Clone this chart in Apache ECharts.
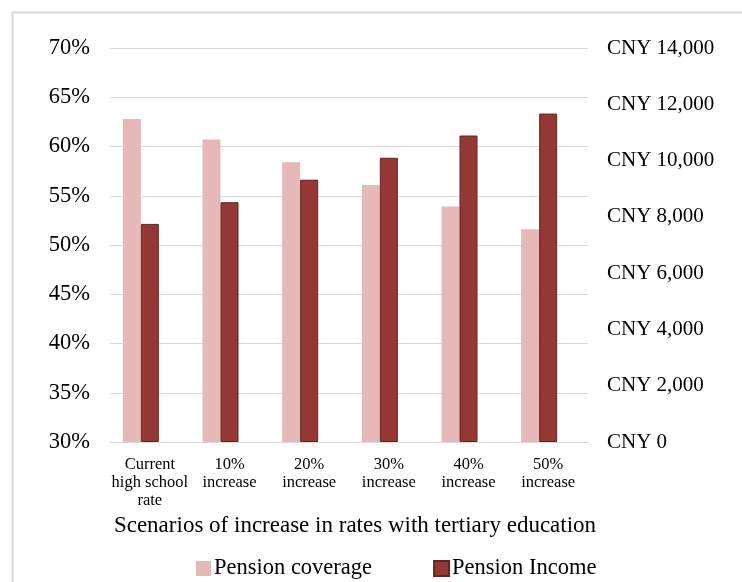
<!DOCTYPE html>
<html>
<head>
<meta charset="utf-8">
<script src="https://cdn.jsdelivr.net/npm/echarts@6/dist/echarts.min.js"></script>
<style>html,body{margin:0;padding:0;background:#fff;}#c{width:742px;height:582px;}</style>
</head>
<body>
<div id="c"></div>
<script>
const categories = ["Current\nhigh school\nrate", "10%\nincrease", "20%\nincrease", "30%\nincrease", "40%\nincrease", "50%\nincrease"];
const pensionCoverage = [62.8, 60.7, 58.4, 56.1, 53.9, 51.6];
const pensionIncome = [7750, 8520, 9320, 10100, 10890, 11670];
const spacer = [];
const leftTicks = {min: 30, max: 70, interval: 5};
const rightTicks = {min: 0, max: 14000, interval: 2000};

const FONT = '"Liberation Serif", "DejaVu Serif", serif';
const chart = echarts.init(document.getElementById('c'));
chart.setOption({
  animation: false,
  textStyle: {fontFamily: FONT, color: '#000'},
  graphic: [{
    type: 'rect', left: 10, top: 10, silent: true,
    shape: {x: 0, y: 0, width: 800, height: 700},
    style: {fill: 'none', stroke: '#d9d9d9', lineWidth: 2}
  }],
  grid: {left: 110, right: 154, top: 48, bottom: 140},
  legend: {
    data: ['Pension coverage', 'Pension Income'],
    left: 196, top: 557, padding: 0,
    icon: 'rect',
    itemWidth: 15, itemHeight: 15, itemGap: 61,
    textStyle: {fontFamily: FONT, fontSize: 22.5, color: '#000', padding: [0, 0, 0, -2]}
  },
  xAxis: {
    type: 'category',
    data: categories,
    axisLine: {lineStyle: {color: '#d9d9d9', width: 1}},
    axisTick: {show: false},
    axisLabel: {fontFamily: FONT, fontSize: 16.5, color: '#000', lineHeight: 18, margin: 14, interval: 0},
    name: 'Scenarios of increase in rates with tertiary education',
    nameLocation: 'middle',
    nameGap: 66,
    nameTextStyle: {fontFamily: FONT, fontSize: 23, color: '#000', padding: [0, 0, 0, 12]}
  },
  yAxis: [{
    type: 'value',
    min: leftTicks.min, max: leftTicks.max, interval: leftTicks.interval,
    axisLine: {show: false}, axisTick: {show: false},
    axisLabel: {fontFamily: FONT, fontSize: 22.5, color: '#000', margin: 20, formatter: '{value}%'},
    splitLine: {lineStyle: {color: '#d9d9d9', width: 1}}
  }, {
    type: 'value',
    position: 'right',
    min: rightTicks.min, max: rightTicks.max, interval: rightTicks.interval,
    axisLine: {show: false}, axisTick: {show: false},
    axisLabel: {fontFamily: FONT, fontSize: 21, color: '#000', margin: 19,
      formatter: v => 'CNY ' + v.toLocaleString('en-US')},
    splitLine: {show: false}
  }],
  series: [{
    name: 'Pension coverage', type: 'bar', yAxisIndex: 0,
    data: pensionCoverage, barWidth: 18, barGap: '0%',
    itemStyle: {color: '#e6b9b8'}
  }, {
    name: 'Pension Income', type: 'bar', yAxisIndex: 1,
    data: pensionIncome, barWidth: 18, barGap: '0%',
    itemStyle: {color: '#953735', borderColor: '#632523', borderWidth: 1}
  }, {
    name: 'spacer', type: 'bar', yAxisIndex: 1,
    data: spacer, barWidth: 18, barGap: '0%'
  }]
});
</script>
</body>
</html>
